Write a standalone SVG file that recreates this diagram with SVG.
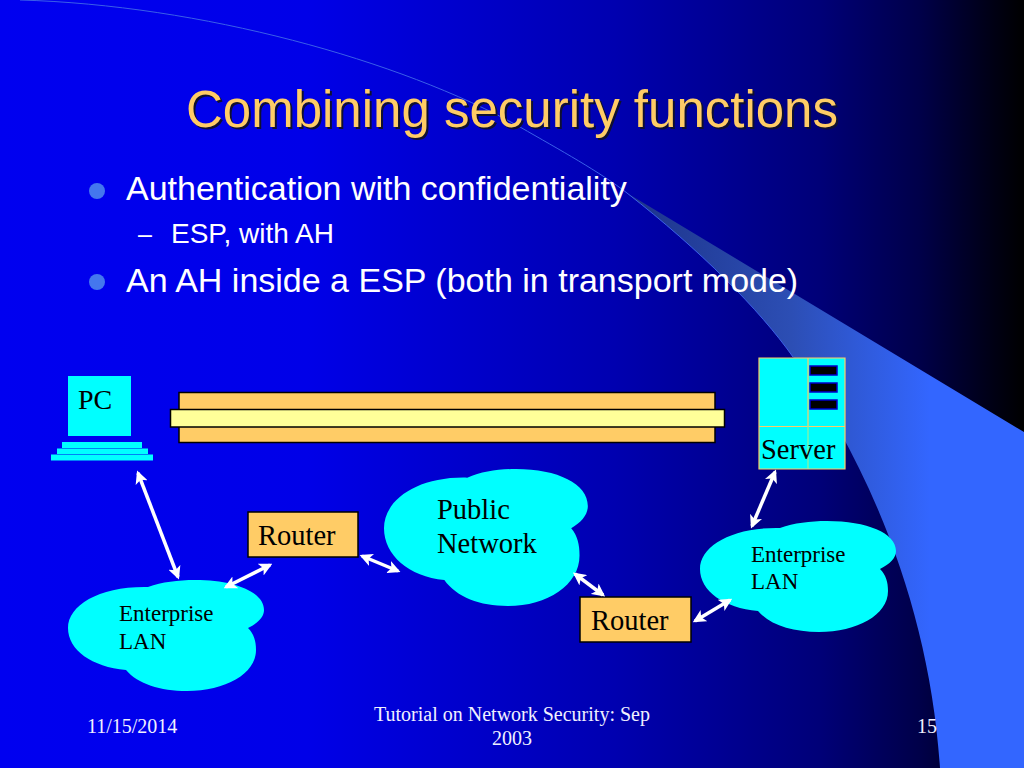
<svg xmlns="http://www.w3.org/2000/svg" xmlns:xlink="http://www.w3.org/1999/xlink" width="1024" height="768" viewBox="0 0 1024 768">
<style>
.serif{font-family:"Liberation Serif","Times New Roman",serif;fill:#000}
.sans{font-family:"Liberation Sans",Arial,sans-serif;fill:#fff}
.foot{font-family:"Liberation Serif","Times New Roman",serif;fill:#f0f0ff;font-size:20px}
.cy{fill:#00ffff}
.or{fill:#ffcc66;stroke:#000;stroke-width:1.5}
.ln{stroke:#ffcc66;stroke-width:1.2;fill:none}
.ar{stroke:#fff;stroke-width:3.5;fill:none;marker-start:url(#h);marker-end:url(#h)}
</style>
<defs>
<linearGradient id="bg" x1="0" x2="1" y1="0" y2="0">
<stop offset="0" stop-color="#0000f0"/><stop offset=".3" stop-color="#0000e8"/><stop offset=".6" stop-color="#0000b0"/><stop offset=".8" stop-color="#000078"/><stop offset=".9" stop-color="#000048"/><stop offset=".97" stop-color="#000014"/><stop offset="1" stop-color="#000000"/>
</linearGradient>
<linearGradient id="sw" gradientUnits="userSpaceOnUse" x1="620" x2="930" y1="0" y2="0">
<stop offset="0" stop-color="#1c3288"/><stop offset=".55" stop-color="#2c4eb4"/><stop offset="1" stop-color="#3366ff"/>
</linearGradient>
<marker id="h" viewBox="0 0 10 10" refX="8" refY="5" markerUnits="userSpaceOnUse" markerWidth="13" markerHeight="13" orient="auto-start-reverse">
<path d="M0 0L10 5L0 10L2.500 5z" fill="#fff"/>
</marker>
<path id="cloud" d="M148 587C162 582 178 580 195 580C235 580 264 592 264 610C264 617 258 623 248 628C254 634 256 641 256 650C256 674 225 691 187 691C160 691 138 684 126 670C92 667 68 650 68 628C68 605 100 586 148 587Z"/>
</defs>
<rect width="1024" height="768" fill="url(#bg)"/>
<path d="M627 193L1024 432V768H940C930 610 870 465 793 357C760 310 700 250 627 193Z" fill="url(#sw)"/>
<path d="M20 0C200 5 400 60 520 127C560 150 600 172 627 193C700 250 760 310 793 357" fill="none" stroke="#3a5fe8" stroke-width="1"/>
<g id="title"><text x="188" y="129" font-size="51" style="font-family:'Liberation Sans',Arial,sans-serif;fill:#101030">Combining security functions</text><text x="186" y="127" font-size="51" style="font-family:'Liberation Sans',Arial,sans-serif;fill:#ffcc66">Combining security functions</text></g>
<g id="bullets">
<circle cx="97" cy="191" r="8" fill="#4477ee"/>
<text class="sans" x="126" y="200" font-size="34">Authentication with confidentiality</text>
<text class="sans" x="138" y="243" font-size="25">–</text>
<text class="sans" x="171" y="243" font-size="28">ESP, with AH</text>
<circle cx="97" cy="282" r="8" fill="#4477ee"/>
<text class="sans" x="126" y="292" font-size="34">An AH inside a ESP (both in transport mode)</text>
</g>
<g id="tunnel">
<rect class="or" x="179" y="392.500" width="536" height="50"/>
<rect x="170.500" y="409.500" width="554" height="17.500" fill="#ffff99" stroke="#000" stroke-width="1.500"/>
</g>
<g id="pc">
<rect class="cy" x="68" y="376" width="63" height="60"/>
<rect class="cy" x="62" y="442" width="80" height="6"/>
<rect class="cy" x="57" y="448.500" width="91" height="5.500"/>
<rect class="cy" x="51" y="454.500" width="102" height="6"/>
<text class="serif" x="78" y="409" font-size="28">PC</text>
</g>
<g id="server">
<rect class="cy" x="759" y="358" width="86" height="111"/>
<path class="ln" d="M759 358H845V469H759ZM759 426.500H845M808 358V426"/>
<path d="M808 426V469" stroke="#99ee99" stroke-width="1.200"/>
<g fill="#000" stroke="#0000cc" stroke-width="1.500">
<rect x="810" y="366" width="27" height="9"/><rect x="810" y="383" width="27" height="9"/><rect x="810" y="400" width="27" height="9"/>
</g>
<text class="serif" x="761" y="459" font-size="28.500">Server</text>
</g>
<g id="router1"><rect class="or" x="248" y="512" width="110" height="45"/><text class="serif" x="258" y="545" font-size="28.500">Router</text></g>
<g id="router2"><rect class="or" x="580" y="597" width="111" height="45"/><text class="serif" x="591" y="630" font-size="28.500">Router</text></g>
<g id="lan1"><use xlink:href="#cloud" href="#cloud" class="cy"/><text class="serif" font-size="23"><tspan x="119" y="621">Enterprise</tspan><tspan x="119" y="649">LAN</tspan></text></g>
<g id="public"><use xlink:href="#cloud" href="#cloud" class="cy" transform="translate(384 469) scale(1.04 1.234) translate(-68 -580)"/><text class="serif" font-size="28.500"><tspan x="437" y="519">Public</tspan><tspan x="437" y="553">Network</tspan></text></g>
<g id="lan2"><use xlink:href="#cloud" href="#cloud" class="cy" transform="translate(632 -59)"/><text class="serif" font-size="23"><tspan x="751" y="562">Enterprise</tspan><tspan x="751" y="589">LAN</tspan></text></g>
<g id="connectors">
<line class="ar" x1="138" y1="473" x2="178" y2="577"/>
<line class="ar" x1="226" y1="587" x2="270" y2="565"/>
<line class="ar" x1="362" y1="556" x2="398" y2="571"/>
<line class="ar" x1="575" y1="574" x2="603" y2="595"/>
<line class="ar" x1="695" y1="621" x2="730" y2="600"/>
<line class="ar" x1="775" y1="472" x2="752" y2="526"/>
</g>
<g id="footer">
<text class="foot" x="87" y="733">11/15/2014</text>
<text class="foot" x="512" y="721" text-anchor="middle">Tutorial on Network Security: Sep</text>
<text class="foot" x="512" y="745" text-anchor="middle">2003</text>
<text class="foot" x="937" y="733" text-anchor="end">15</text>
</g>
</svg>
